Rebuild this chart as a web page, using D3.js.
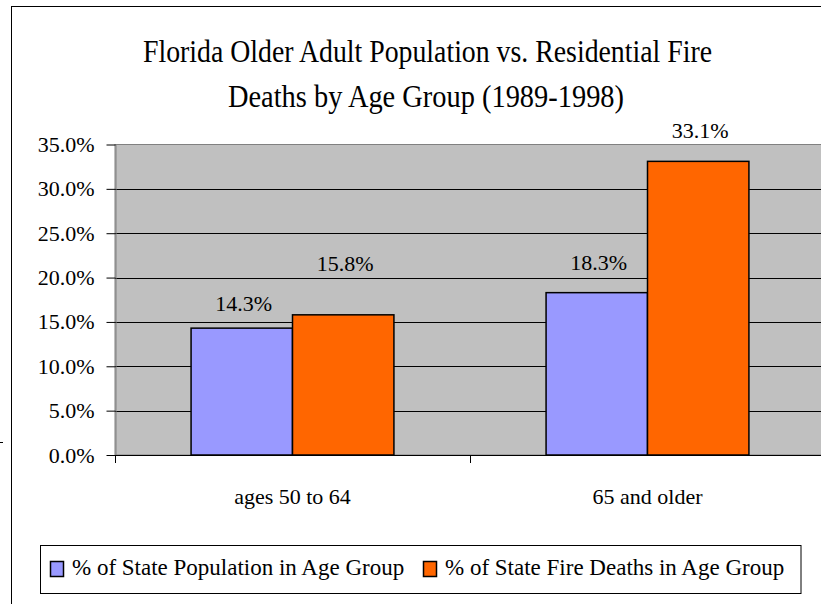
<!DOCTYPE html>
<html>
<head>
<meta charset="utf-8">
<script src="https://cdn.jsdelivr.net/npm/d3@7"></script>
<style>
body { margin: 0; background: #fff; }
text { font-family: "Liberation Serif", "Times New Roman", serif; fill: #000; }
</style>
</head>
<body>
<script>
var categories = ["ages 50 to 64", "65 and older"];
var seriesNames = ["% of State Population in Age Group", "% of State Fire Deaths in Age Group"];
var popValues = [14.3, 18.3];
var fireValues = [15.8, 33.1];
var yTicks = [0, 5, 10, 15, 20, 25, 30, 35];
var titleLines = ["Florida Older Adult Population vs. Residential Fire", "Deaths by Age Group (1989-1998)"];

var colors = ["#9999ff", "#ff6600"];
// how far each value label sits above its bar (labels were moved by hand in the original)
var labelLift = [[17, 23], [43.5, 23]];

var plot = {left: 115, top: 144.5, right: 825, bottom: 455};

var svg = d3.select("body")
  .append("svg")
  .attr("width", 821)
  .attr("height", 604);

// chart area frame (runs off the right and bottom edge)
svg.append("rect")
  .attr("x", 11.5).attr("y", 6.5)
  .attr("width", 900).attr("height", 700)
  .attr("fill", "#fff").attr("stroke", "#000");
svg.append("line")
  .attr("x1", 0).attr("x2", 3).attr("y1", 442.5).attr("y2", 442.5)
  .attr("stroke", "#000");

// title
svg.selectAll(".title")
  .data(titleLines)
  .enter().append("text")
  .attr("class", "title")
  .attr("x", function(d, i) { return i == 0 ? 427.5 : 426; })
  .attr("y", function(d, i) { return 61.7 + i * 45; })
  .attr("text-anchor", "middle")
  .attr("font-size", 32)
  .attr("textLength", function(d, i) { return i == 0 ? 569 : 396; })
  .attr("lengthAdjust", "spacingAndGlyphs")
  .text(function(d) { return d; });

var x0 = d3.scaleBand()
  .domain(categories)
  .range([plot.left, plot.right]);

var x1 = d3.scaleBand()
  .domain([0, 1])
  .range([0, x0.bandwidth()])
  .paddingInner(0)
  .paddingOuter(0.75);

var y = d3.scaleLinear()
  .domain([0, 35])
  .range([plot.bottom, plot.top]);

// plot area
svg.append("rect")
  .attr("x", plot.left).attr("y", plot.top)
  .attr("width", plot.right - plot.left).attr("height", plot.bottom - plot.top)
  .attr("fill", "#c0c0c0").attr("stroke", "#808080");

svg.selectAll(".grid")
  .data(yTicks.filter(function(d) { return d > 0 && d < 35; }))
  .enter().append("line")
  .attr("class", "grid")
  .attr("x1", plot.left).attr("x2", plot.right)
  .attr("y1", function(d) { return Math.round(y(d)) + 0.5; })
  .attr("y2", function(d) { return Math.round(y(d)) + 0.5; })
  .attr("stroke", "#000");

var yAxis = d3.axisLeft(y)
  .tickValues(yTicks)
  .tickSize(9)
  .tickSizeOuter(0)
  .tickPadding(12)
  .tickFormat(function(d) { return d.toFixed(1) + "%"; });

var gy = svg.append("g")
  .attr("transform", "translate(" + (plot.left + 0.5) + ",0)")
  .call(yAxis);
gy.select(".domain").attr("stroke", "#808080");
gy.selectAll("line").attr("stroke", "#000");
gy.selectAll("text").attr("font-size", 22).attr("font-family", "Liberation Serif").attr("fill", "#000");

// bars
var series = [popValues, fireValues];
series.forEach(function(vals, s) {
  svg.selectAll(".bar" + s)
    .data(vals)
    .enter().append("rect")
    .attr("class", "bar" + s)
    .attr("x", function(d, i) { return x0(categories[i]) + x1(s); })
    .attr("y", function(d) { return y(d); })
    .attr("width", x1.bandwidth())
    .attr("height", function(d) { return y(0) - y(d); })
    .attr("fill", colors[s])
    .attr("stroke", "#000")
    .attr("stroke-width", 1.5);

  svg.selectAll(".lab" + s)
    .data(vals)
    .enter().append("text")
    .attr("class", "lab" + s)
    .attr("x", function(d, i) { return x0(categories[i]) + x1(s) + x1.bandwidth() / 2 + 2; })
    .attr("y", function(d, i) { return y(d) - labelLift[s][i]; })
    .attr("text-anchor", "middle")
    .attr("font-size", 22)
    .text(function(d) { return d.toFixed(1) + "%"; });
});

// category axis
svg.append("line")
  .attr("x1", plot.left).attr("x2", plot.right)
  .attr("y1", plot.bottom + 0.5).attr("y2", plot.bottom + 0.5)
  .attr("stroke", "#000");
svg.selectAll(".xtick")
  .data(categories.concat([null]))
  .enter().append("line")
  .attr("class", "xtick")
  .attr("x1", function(d) { return (d ? x0(d) : plot.right) + 0.5; })
  .attr("x2", function(d) { return (d ? x0(d) : plot.right) + 0.5; })
  .attr("y1", plot.bottom).attr("y2", plot.bottom + 8)
  .attr("stroke", "#000");

var xAxis = d3.axisBottom(x0)
  .tickSize(0)
  .tickPadding(33);
var gx = svg.append("g")
  .attr("transform", "translate(0," + plot.bottom + ")")
  .call(xAxis);
gx.select(".domain").remove();
gx.selectAll("text").attr("font-size", 22).attr("font-family", "Liberation Serif").attr("fill", "#000");

// legend
svg.append("rect")
  .attr("x", 40.5).attr("y", 545.5)
  .attr("width", 760.5).attr("height", 48)
  .attr("fill", "#fff").attr("stroke", "#000");
var legX = [50.5, 423.5];
var leg = svg.selectAll(".leg")
  .data(seriesNames)
  .enter().append("g")
  .attr("class", "leg")
  .attr("transform", function(d, i) { return "translate(" + legX[i] + ",0)"; });
leg.append("rect")
  .attr("x", 0).attr("y", 561.5)
  .attr("width", 13).attr("height", 15)
  .attr("fill", function(d, i) { return colors[i]; })
  .attr("stroke", "#000").attr("stroke-width", 1.5);
leg.append("text")
  .attr("x", 21.5).attr("y", 575)
  .attr("font-size", 23)
  .text(function(d) { return d; });
</script>
</body>
</html>
